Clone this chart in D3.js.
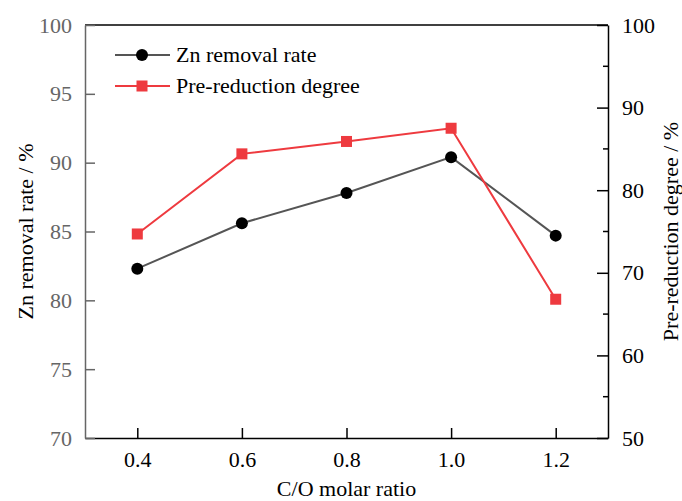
<!DOCTYPE html>
<html><head><meta charset="utf-8">
<script src="https://cdn.jsdelivr.net/npm/d3@7"></script>
<style>body{margin:0;background:#fff}svg{display:block}</style>
</head><body>
<script>
const ratios = [0.4, 0.6, 0.8, 1.0, 1.2];
const znRemoval = [82.3, 85.6, 87.8, 90.4, 84.7];
const preReduction = [74.7, 84.4, 85.9, 87.5, 66.8];
const xTicks = [0.4, 0.6, 0.8, 1.0, 1.2];
const leftTicks = [70, 75, 80, 85, 90, 95, 100];
const rightMajor = [50, 60, 70, 80, 90, 100];
const rightMinor = [55, 65, 75, 85, 95];

const FONT = "'Liberation Serif', 'Times New Roman', Times, serif";
const FS = 22;
const W = 682, H = 501;
const L = 85, R = 608, T = 25, B = 438;
const svg = d3.select("body").append("svg").attr("width", W).attr("height", H);
const x = d3.scaleLinear().domain([0.3, 1.3]).range([L, R]);
const yL = d3.scaleLinear().domain([70, 100]).range([B, T]);
const yR = d3.scaleLinear().domain([50, 100]).range([B, T]);
const red = "#ee3a3f", gray = "#555";

svg.append("line").attr("x1", L).attr("x2", R).attr("y1", T).attr("y2", T).attr("stroke", "#000").attr("stroke-width", 1.5);

const gx = svg.append("g").attr("transform", `translate(0,${B})`)
  .call(d3.axisBottom(x).tickValues(xTicks).tickFormat(d3.format(".1f")).tickSizeInner(-10).tickSizeOuter(0).tickPadding(13));
gx.select(".domain").attr("stroke", "#000").attr("stroke-width", 1.5);
gx.selectAll(".tick line").attr("stroke", "#000").attr("stroke-width", 1.5);
gx.selectAll("text").attr("fill", "#000");

const gl = svg.append("g").attr("transform", `translate(${L},0)`)
  .call(d3.axisLeft(yL).tickValues(leftTicks).tickSizeInner(-10).tickSizeOuter(0).tickPadding(13));
gl.select(".domain").attr("stroke", "#666").attr("stroke-width", 1.5);
gl.selectAll(".tick line").attr("stroke", "#666").attr("stroke-width", 1.5);
gl.selectAll("text").attr("fill", "#666");

const gr = svg.append("g").attr("transform", `translate(${R},0)`)
  .call(d3.axisRight(yR).tickValues(rightMajor).tickSizeInner(-11).tickSizeOuter(0).tickPadding(14));
gr.select(".domain").attr("stroke", "#000").attr("stroke-width", 1.5);
gr.selectAll(".tick line").attr("stroke", "#000").attr("stroke-width", 1.5);
gr.selectAll("text").attr("fill", "#000");
svg.append("g").selectAll("line").data(rightMinor).join("line")
  .attr("x1", R - 5).attr("x2", R).attr("y1", d => yR(d)).attr("y2", d => yR(d))
  .attr("stroke", "#000").attr("stroke-width", 1.5);

const zn = ratios.map((r, i) => [r, znRemoval[i]]);
const pr = ratios.map((r, i) => [r, preReduction[i]]);
svg.append("path").datum(zn).attr("fill", "none").attr("stroke", gray).attr("stroke-width", 2)
  .attr("d", d3.line().x(d => x(d[0])).y(d => yL(d[1])));
svg.append("path").datum(pr).attr("fill", "none").attr("stroke", red).attr("stroke-width", 2)
  .attr("d", d3.line().x(d => x(d[0])).y(d => yR(d[1])));
svg.append("g").selectAll("circle").data(zn).join("circle")
  .attr("cx", d => x(d[0])).attr("cy", d => yL(d[1])).attr("r", 6).attr("fill", "#000");
svg.append("g").selectAll("rect").data(pr).join("rect")
  .attr("x", d => x(d[0]) - 5.5).attr("y", d => yR(d[1]) - 5.5).attr("width", 11).attr("height", 11).attr("fill", red);

const lg = svg.append("g");
lg.append("line").attr("x1", 115).attr("x2", 170).attr("y1", 55).attr("y2", 55).attr("stroke", gray).attr("stroke-width", 2);
lg.append("circle").attr("cx", 142).attr("cy", 55).attr("r", 6).attr("fill", "#000");
lg.append("text").attr("x", 176).attr("y", 62).text("Zn removal rate");
lg.append("line").attr("x1", 115).attr("x2", 170).attr("y1", 86).attr("y2", 86).attr("stroke", red).attr("stroke-width", 2);
lg.append("rect").attr("x", 136.5).attr("y", 80.5).attr("width", 11).attr("height", 11).attr("fill", red);
lg.append("text").attr("x", 176).attr("y", 93).text("Pre-reduction degree");

svg.append("text").attr("x", (L + R) / 2).attr("y", 496).attr("text-anchor", "middle").text("C/O molar ratio");
svg.append("text").attr("transform", `translate(33,${(T + B) / 2}) rotate(-90)`).attr("text-anchor", "middle").text("Zn removal rate / %");
svg.append("text").attr("transform", `translate(678,${(T + B) / 2}) rotate(-90)`).attr("text-anchor", "middle").text("Pre-reduction degree / %");

svg.selectAll("text").attr("font-family", FONT).attr("font-size", FS).style("font-family", FONT).style("font-size", FS + "px");
</script>
</body></html>
